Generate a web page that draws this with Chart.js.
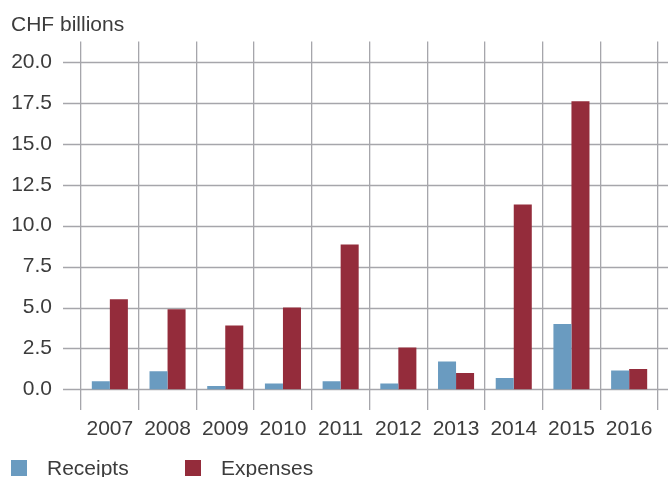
<!DOCTYPE html>
<html>
<head>
<meta charset="utf-8">
<script src="https://cdn.jsdelivr.net/npm/chart.js@4.4.0/dist/chart.umd.min.js"></script>
<style>
  body { margin: 0; background: #fff; }
  #wrap { position: relative; width: 668px; height: 477px; font-family: "Liberation Sans", Arial, sans-serif; color: #3c3c3c; }
  #legend { position: absolute; left: 11px; top: 459px; display: flex; font-size: 21px; line-height: 18px; }
  .item { display: flex; align-items: center; }
  .item:first-child { width: 174px; }
  .swatch { width: 16px; height: 16px; margin-right: 20px; }
</style>
</head>
<body>
<div id="wrap">
  <canvas id="chart" width="668" height="477"></canvas>
  <div id="legend"></div>
</div>
<script>
// Data
const years = ['2007', '2008', '2009', '2010', '2011', '2012', '2013', '2014', '2015', '2016'];
const receipts = [0.5, 1.1, 0.2, 0.35, 0.5, 0.35, 1.7, 0.7, 4.0, 1.15];
const expenses = [5.5, 4.9, 3.9, 5.0, 8.85, 2.55, 1.0, 11.3, 17.6, 1.25];
const yTicks = [0, 2.5, 5, 7.5, 10, 12.5, 15, 17.5, 20];

const blue = '#6a9bc0';
const red = '#942c3b';
const gridColor = '#a6a6ab';
const textColor = '#3c3c3c';

Chart.defaults.font.family = '"Liberation Sans", Arial, sans-serif';
Chart.defaults.font.size = 21;
Chart.defaults.color = textColor;

// horizontal lines run past the plot on both sides
const hGrid = {
  id: 'hGrid',
  beforeDatasetsDraw(chart) {
    const { ctx, chartArea, scales: { y } } = chart;
    ctx.save();
    ctx.strokeStyle = gridColor;
    ctx.lineWidth = 1.3;
    y.ticks.forEach(t => {
      const py = Math.round(y.getPixelForValue(t.value)) + 0.5;
      ctx.beginPath();
      ctx.moveTo(chartArea.left - 18, py);
      ctx.lineTo(chart.width, py);
      ctx.stroke();
    });
    ctx.restore();
  }
};

const data = {
  labels: years,
  datasets: [
    { label: 'Receipts', data: receipts, backgroundColor: blue },
    { label: 'Expenses', data: expenses, backgroundColor: red }
  ]
};

const options = {
  responsive: false,
  animation: false,
  layout: { padding: { left: 11, top: 6, right: 10, bottom: 28 } },
  datasets: { bar: { barPercentage: 1, categoryPercentage: 0.625 } },
  scales: {
    x: {
      grid: { color: gridColor, lineWidth: 1.3, offset: true, drawTicks: false },
      border: { display: false },
      ticks: { padding: 7, color: textColor }
    },
    y: {
      min: -1.25,
      max: 21.25,
      afterBuildTicks: s => { s.ticks = yTicks.map(v => ({ value: v })); },
      afterFit: s => { s.width = 70; },
      grid: { display: false, drawTicks: false },
      border: { display: false },
      ticks: { padding: 29, color: textColor, callback: v => v.toFixed(1) }
    }
  },
  plugins: {
    legend: { display: false },
    tooltip: { enabled: false },
    title: {
      display: true,
      text: 'CHF billions',
      align: 'start',
      color: textColor,
      font: { size: 21, weight: 'normal' },
      padding: { top: 0, bottom: 4 }
    }
  }
};

const chart = new Chart(document.getElementById('chart'), {
  type: 'bar',
  data: data,
  options: options,
  plugins: [hGrid]
});

// Legend
const legend = document.getElementById('legend');
data.datasets.forEach(ds => {
  const item = document.createElement('div');
  item.className = 'item';
  const sw = document.createElement('span');
  sw.className = 'swatch';
  sw.style.background = ds.backgroundColor;
  const txt = document.createElement('span');
  txt.textContent = ds.label;
  item.appendChild(sw);
  item.appendChild(txt);
  legend.appendChild(item);
});
</script>
</body>
</html>
